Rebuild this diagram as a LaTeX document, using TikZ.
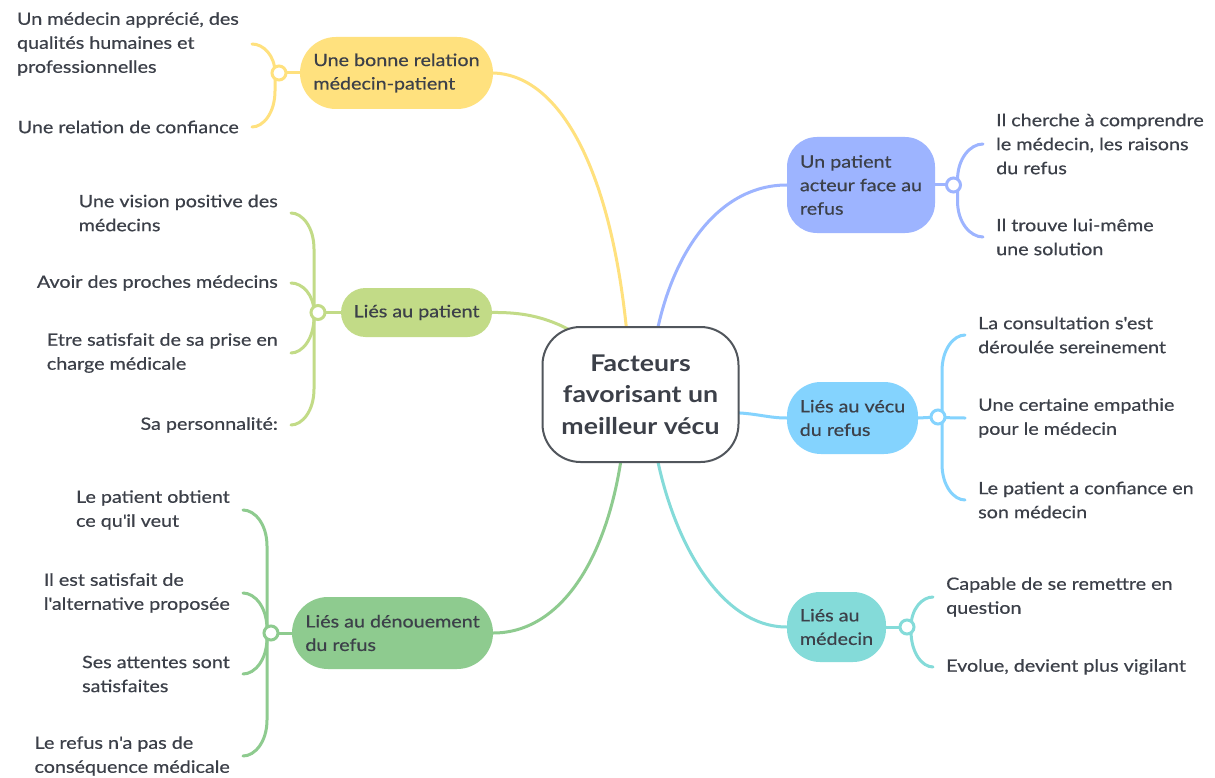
\documentclass[tikz,border=0pt]{standalone}
\usepackage{fontspec}
\setmainfont{Lato}[FakeStretch=1.16,FakeBold=0.5,BoldFeatures={FakeBold=0}]
\usetikzlibrary{backgrounds,calc}
\definecolor{txt}{HTML}{3C4049}
\definecolor{cyel}{HTML}{FFE17E}
\definecolor{clgr}{HTML}{C2DB87}
\definecolor{cgrn}{HTML}{8ECB8F}
\definecolor{cpur}{HTML}{9DB4FF}
\definecolor{cblu}{HTML}{84D3FE}
\definecolor{ctea}{HTML}{84DBD9}
\definecolor{cbrd}{HTML}{51565C}
\newcommand{\apos}{\textquotesingle}
\begin{document}
\begin{tikzpicture}[x=1pt,y=-1pt,
  every node/.style={text=txt},
  lf/.style={font=\fontsize{17}{24}\selectfont, align=left, inner xsep=13pt, inner ysep=0pt},
  lfL/.style={lf, anchor=east},
  lfR/.style={lf, anchor=west},
  br/.style={font=\fontsize{17}{23.5}\selectfont, align=left, inner sep=0pt, fill=#1},
  hub/.style={circle, draw=#1, fill=white, line width=3pt, minimum size=14pt, inner sep=0pt},
  conn/.style={draw=#1, line width=3pt, line cap=round},
  leafc/.style={to path={
    let \p1=(\tikztostart), \p2=(\tikztotarget),
        \n1={sign(\x2-\x1)}, \n2={sign(\y2-\y1)}, \n3={min(36,abs(\y2-\y1))}
    in ({\x1+4*(\n1)},\y1) -- ({\x1+4*(\n1)},{\y2-(\n2)*(\n3)})
       .. controls ({\x1+4*(\n1)},{\y2-0.4*(\n2)*(\n3)}) and ({0.5*(\x1+4*(\n1))+0.5*\x2},\y2) .. (\x2,\y2)}},
]
\useasboundingbox (0,0) rectangle (1215,778);

% center
\node[draw=cbrd, line width=2pt, fill=white, rounded corners=38pt, minimum width=196pt, minimum height=135pt,
      align=center, font=\fontsize{23}{31.5}\selectfont\bfseries, inner sep=0pt] (c) at (640.5,394.5)
      {Facteurs\\favorisant un\\meilleur vécu};

% branch nodes
\node[br=cyel, minimum width=193pt, minimum height=72pt, rounded corners=36pt] (b1) at (396.5,73) {Une bonne relation\\médecin-patient};
\node[br=clgr, minimum width=151pt, minimum height=49pt, rounded corners=24.5pt] (b2) at (416.5,312.5) {Liés au patient};
\node[br=cgrn, minimum width=201pt, minimum height=72pt, rounded corners=36pt] (b3) at (392.5,633) {Liés au dénouement\\du refus};
\node[br=cpur, minimum width=148pt, minimum height=96pt, rounded corners=30pt] (b4) at (861,185) {Un patient\\acteur face au\\refus};
\node[br=cblu, minimum width=131pt, minimum height=72pt, rounded corners=34pt] (b5) at (852.5,418) {Liés au vécu\\du refus};
\node[br=ctea, minimum width=99pt, minimum height=70pt, rounded corners=33pt] (b6) at (836.5,627) {Liés au\\médecin};

% hubs
\node[hub=cyel] (h1) at (279,73) {};
\node[hub=clgr] (h2) at (318,312.5) {};
\node[hub=cgrn] (h3) at (271,633) {};
\node[hub=cpur] (h4) at (953.5,185) {};
\node[hub=cblu] (h5) at (938,417) {};
\node[hub=ctea] (h6) at (907,627) {};

% leaves
\node[lfL] (l11) at (252,44) {Un médecin apprécié, des\\qualités humaines et\\professionnelles};
\node[lfL] (l12) at (252,127) {Une relation de confiance};
\node[lfL] (l21) at (291,213) {Une vision positive des\\médecins};
\node[lfL] (l22) at (291,283) {Avoir des proches médecins};
\node[lfL] (l23) at (291,353) {Etre satisfait de sa prise en\\charge médicale};
\node[lfL] (l24) at (291,425) {Sa personnalité:};
\node[lfL] (l31) at (243,510) {Le patient obtient\\ce qu\apos il veut};
\node[lfL] (l32) at (243,593) {Il est satisfait de\\l\apos alternative proposée};
\node[lfL] (l33) at (243,674) {Ses attentes sont\\satisfaites};
\node[lfL] (l34) at (243,756) {Le refus n\apos a pas de\\conséquence médicale};
\node[lfR] (l41) at (983,144) {Il cherche à comprendre\\le médecin, les raisons\\du refus};
\node[lfR] (l42) at (983,237) {Il trouve lui-même\\une solution};
\node[lfR] (l51) at (965,335) {La consultation s\apos est\\déroulée sereinement};
\node[lfR] (l52) at (965,418) {Une certaine empathie\\pour le médecin};
\node[lfR] (l53) at (965,500) {Le patient a confiance en\\son médecin};
\node[lfR] (l61) at (933,597) {Capable de se remettre en\\question};
\node[lfR] (l62) at (933,667) {Evolue, devient plus vigilant};

\begin{pgfonlayer}{background}
\fill[white] (0,0) rectangle (1215,778);
% main connectors
\draw[conn=cyel] (b1.east) .. controls (560,75) and (612,170) .. ($(c.center)+(-13,-55)$);
\draw[conn=clgr] (b2.east) .. controls (530,312) and (556,320) .. ($(c.center)+(-55,-55)$);
\draw[conn=cgrn] (b3.east) .. controls (560,633) and (608,560) .. ($(c.center)+(-18,55)$);
\draw[conn=cpur] (b4.west) .. controls (720,185) and (672,250) .. ($(c.center)+(15,-55)$);
\draw[conn=cblu] (b5.west) .. controls (765,418) and (755,412) .. ($(c.center)+(80,18)$);
\draw[conn=ctea] (b6.west) .. controls (720,627) and (672,540) .. ($(c.center)+(15,55)$);
% hub to branch
\draw[conn=cyel] (h1.center) -- (b1.west);
\draw[conn=clgr] (h2.center) -- (b2.west);
\draw[conn=cgrn] (h3.center) -- (b3.west);
\draw[conn=cpur] (h4.center) -- (b4.east);
\draw[conn=cblu] (h5.center) -- (b5.east);
\draw[conn=ctea] (h6.center) -- (b6.east);
% leaves
\draw[conn=cyel] (h1.center) to[leafc] (l11.east);
\draw[conn=cyel] (h1.center) to[leafc] (l12.east);
\draw[conn=clgr] (h2.center) to[leafc] (l21.east);
\draw[conn=clgr] (h2.center) to[leafc] (l22.east);
\draw[conn=clgr] (h2.center) to[leafc] (l23.east);
\draw[conn=clgr] (h2.center) to[leafc] (l24.east);
\draw[conn=cgrn] (h3.center) to[leafc] (l31.east);
\draw[conn=cgrn] (h3.center) to[leafc] (l32.east);
\draw[conn=cgrn] (h3.center) to[leafc] (l33.east);
\draw[conn=cgrn] (h3.center) to[leafc] (l34.east);
\draw[conn=cpur] (h4.center) to[leafc] (l41.west);
\draw[conn=cpur] (h4.center) to[leafc] (l42.west);
\draw[conn=cblu] (h5.center) to[leafc] (l51.west);
\draw[conn=cblu] (h5.center) to[leafc] (l52.west);
\draw[conn=cblu] (h5.center) to[leafc] (l53.west);
\draw[conn=ctea] (h6.center) to[leafc] (l61.west);
\draw[conn=ctea] (h6.center) to[leafc] (l62.west);
\end{pgfonlayer}
\end{tikzpicture}
\end{document}
